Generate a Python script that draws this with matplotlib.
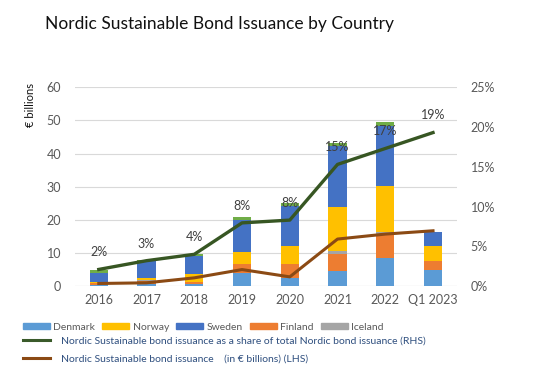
import numpy as np
import matplotlib
matplotlib.use("Agg")
import matplotlib.pyplot as plt
from matplotlib.patches import Patch
from matplotlib.lines import Line2D

plt.rcParams['font.family'] = ['Lato', 'DejaVu Sans']

years = ['2016', '2017', '2018', '2019', '2020', '2021', '2022', 'Q1 2023']

# stacked segments, € billions (bottom to top)
denmark = [0.3, 0.5, 0.5, 4.0, 2.4, 4.6, 8.5, 5.0]
finland = [0.5, 1.0, 0.7, 2.6, 4.2, 5.2, 6.9, 2.5]
iceland = [0.0, 0.5, 0.0, 0.0, 0.0, 0.8, 0.8, 0.0]
norway = [0.5, 0.6, 2.4, 3.7, 5.6, 13.3, 13.9, 4.6]
sweden = [2.6, 4.9, 5.4, 9.8, 12.0, 18.3, 18.1, 4.3]
other = [1.0, 0.5, 0.6, 0.7, 1.0, 1.0, 1.2, 0.0]

# lines
share_pct = [2.1, 3.2, 4.0, 7.95, 8.3, 15.3, 17.3, 19.3]
share_labels = ['2%', '3%', '4%', '8%', '8%', '15%', '17%', '19%']
issuance = [0.8, 1.0, 2.5, 5.0, 2.8, 14.2, 15.7, 16.7]

fig = plt.figure(figsize=(5.35, 3.76), dpi=100)
ax = fig.add_axes([0.140, 0.239, 0.714, 0.529])
ax2 = ax.twinx()

x = np.arange(len(years))
w = 0.38
series = [
    (denmark, '#5B9BD5'),
    (finland, '#ED7D31'),
    (iceland, '#A5A5A5'),
    (norway, '#FFC000'),
    (sweden, '#4472C4'),
    (other, '#70AD47'),
]
bottom = np.zeros(len(years))
for vals, col in series:
    ax.bar(x, vals, w, bottom=bottom, color=col, zorder=2)
    bottom += np.array(vals)

ax.plot(x, issuance, color='#8B4A14', lw=2.2, zorder=3)

ax.set_ylim(0, 60)
ax.set_yticks(range(0, 61, 10))
ax.set_xlim(-0.5, len(years) - 0.5)
ax.set_xticks(x)
ax.set_xticklabels(years)
ax.grid(axis='y', color='#D9D9D9', lw=0.8, zorder=0)
ax.set_axisbelow(True)

ax2.plot(x, share_pct, color='#375623', lw=2.4, zorder=4)
for xi, yi, lab in zip(x, share_pct, share_labels):
    ax2.annotate(lab, (xi, yi), xytext=(0, 8), textcoords='offset points',
                 ha='center', va='bottom', fontsize=9, color='#404040')
ax2.set_ylim(0, 25)
ax2.set_yticks(range(0, 26, 5))
ax2.set_yticklabels([f'{v}%' for v in range(0, 26, 5)])

for a in (ax, ax2):
    for s in a.spines.values():
        s.set_visible(False)
    a.tick_params(length=0, labelsize=9, labelcolor='#595959')
ax.tick_params(axis='y', pad=10)
ax2.tick_params(axis='y', pad=10)
ax.tick_params(axis='x', pad=6)
ax.axhline(0, color='#D9D9D9', lw=0.8, zorder=1)

fig.text(0.084, 0.935, 'Nordic Sustainable Bond Issuance by Country',
         fontsize=12.5, color='#111111', va='center', ha='left')
fig.text(0.057, 0.72, '€ billions', rotation=90, fontsize=8,
         color='#111111', ha='center', va='center')

leg1 = fig.legend(
    handles=[Patch(color='#5B9BD5', label='Denmark'),
             Patch(color='#FFC000', label='Norway'),
             Patch(color='#4472C4', label='Sweden'),
             Patch(color='#ED7D31', label='Finland'),
             Patch(color='#A5A5A5', label='Iceland')],
    loc='center left', bbox_to_anchor=(0.043, 0.130), ncol=5, frameon=False,
    fontsize=7.5, handlelength=2.6, handleheight=0.5, handletextpad=0.3,
    columnspacing=0.7, labelcolor='#595959', borderaxespad=0, borderpad=0)
leg2 = fig.legend(
    handles=[Line2D([], [], color='#3A5A2A', lw=2.2,
                    label='Nordic Sustainable bond issuance as a share of total Nordic bond issuance (RHS)'),
             Line2D([], [], color='#8B4A14', lw=2.2,
                    label='Nordic Sustainable bond issuance    (in € billions) (LHS)')],
    loc='upper left', bbox_to_anchor=(0.043, 0.105), ncol=1, frameon=False,
    fontsize=7.5, handlelength=2.6, handletextpad=1.0, labelspacing=0.85,
    labelcolor='#2F4F7F', borderaxespad=0, borderpad=0)

fig.savefig('out.png', dpi=100)
